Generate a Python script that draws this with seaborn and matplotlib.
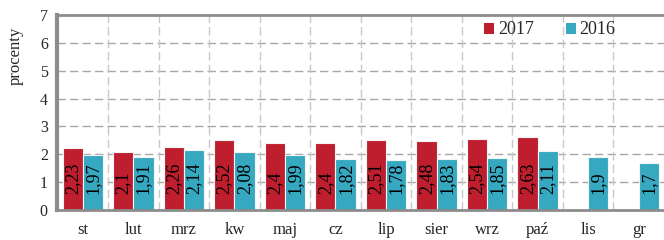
import numpy as np
import pandas as pd
import matplotlib
matplotlib.use("Agg")
import matplotlib.pyplot as plt
import seaborn as sns
from matplotlib.patches import Patch

months = ["st", "lut", "mrz", "kw", "maj", "cz", "lip", "sier", "wrz", "paź", "lis", "gr"]
v2017 = [2.23, 2.1, 2.26, 2.52, 2.4, 2.4, 2.51, 2.48, 2.54, 2.63, np.nan, np.nan]
v2016 = [1.97, 1.91, 2.14, 2.08, 1.99, 1.82, 1.78, 1.83, 1.85, 2.11, 1.9, 1.7]
series = ["2017", "2016"]
colors = ["#BE1E2D", "#36A9C1"]
ylabel = "procenty"

sns.set_theme(style="white")
plt.rcParams["font.family"] = ["Liberation Serif", "DejaVu Serif"]

df = pd.DataFrame({
    "miesiac": months * 2,
    "wartosc": v2017 + v2016,
    "rok": [series[0]] * len(months) + [series[1]] * len(months),
})

fig = plt.figure(figsize=(6.64, 2.40), dpi=100)
ax = fig.add_axes([57.5 / 664, 30 / 240, 1 - 57.5 / 664, 195 / 240])

sns.barplot(data=df, x="miesiac", y="wartosc", hue="rok", hue_order=series,
            palette=colors, saturation=1, width=0.8, edgecolor="#F4F4F4", linewidth=0.8,
            ax=ax, legend=False, order=months)

ax.set_xlim(-0.5, len(months) - 0.5)
ax.set_ylim(0, 7)
ax.set_yticks(range(0, 8))
ax.set_yticklabels([str(i) for i in range(0, 8)], fontsize=11.5)

# grid
grid_col = "#A6A6A6"
for yv in range(1, 7):
    ax.axhline(yv, color=grid_col, lw=1.0, ls=(0, (6, 3)), zorder=0)
for xb in np.arange(0.5, len(months) - 0.5, 1.0):
    ax.axvline(xb, color="#C8C8C8", lw=1.0, ls=(0, (6, 3)), zorder=0)

ax.set_xticks(range(len(months)))
ax.set_xticklabels(months, fontsize=12)
ax.set_xticks(np.arange(-0.5, len(months), 1.0), minor=True)
ax.tick_params(axis="x", which="major", length=0, pad=9)
ax.tick_params(axis="x", which="minor", length=4, width=1, color="#A6A6A6", direction="out")
ax.tick_params(axis="y", which="major", length=5, width=1.5, color="#8C8C8C", direction="out", pad=2)

ax.spines["left"].set_color("#8C8C8C")
ax.spines["left"].set_linewidth(3)
ax.spines["bottom"].set_color("#8C8C8C")
ax.spines["bottom"].set_linewidth(2)
ax.spines["top"].set_color("#8C8C8C")
ax.spines["top"].set_linewidth(2)
ax.spines["right"].set_visible(False)

ax.set_xlabel("")
ax.set_ylabel(ylabel, fontsize=12)
ax.yaxis.set_label_coords(-0.055, 0.79)

# value labels
for cont in ax.containers:
    for bar in cont:
        h = bar.get_height()
        if np.isnan(h):
            continue
        lab = ("%g" % h).replace(".", ",")
        ax.text(bar.get_x() + bar.get_width() / 2, 0.57, lab, rotation=90,
                ha="center", va="bottom", fontsize=13, color="black", zorder=5)

handles = [Patch(facecolor=c, edgecolor="none") for c in colors]
ax.legend(handles, series, loc="center", bbox_to_anchor=(550 / 664, 1 - 30 / 240),
          bbox_transform=fig.transFigure, ncol=2, frameon=False, fontsize=13,
          handlelength=0.55, handleheight=0.55, handletextpad=0.2, columnspacing=1.8)

fig.savefig("out.png", dpi=100)
